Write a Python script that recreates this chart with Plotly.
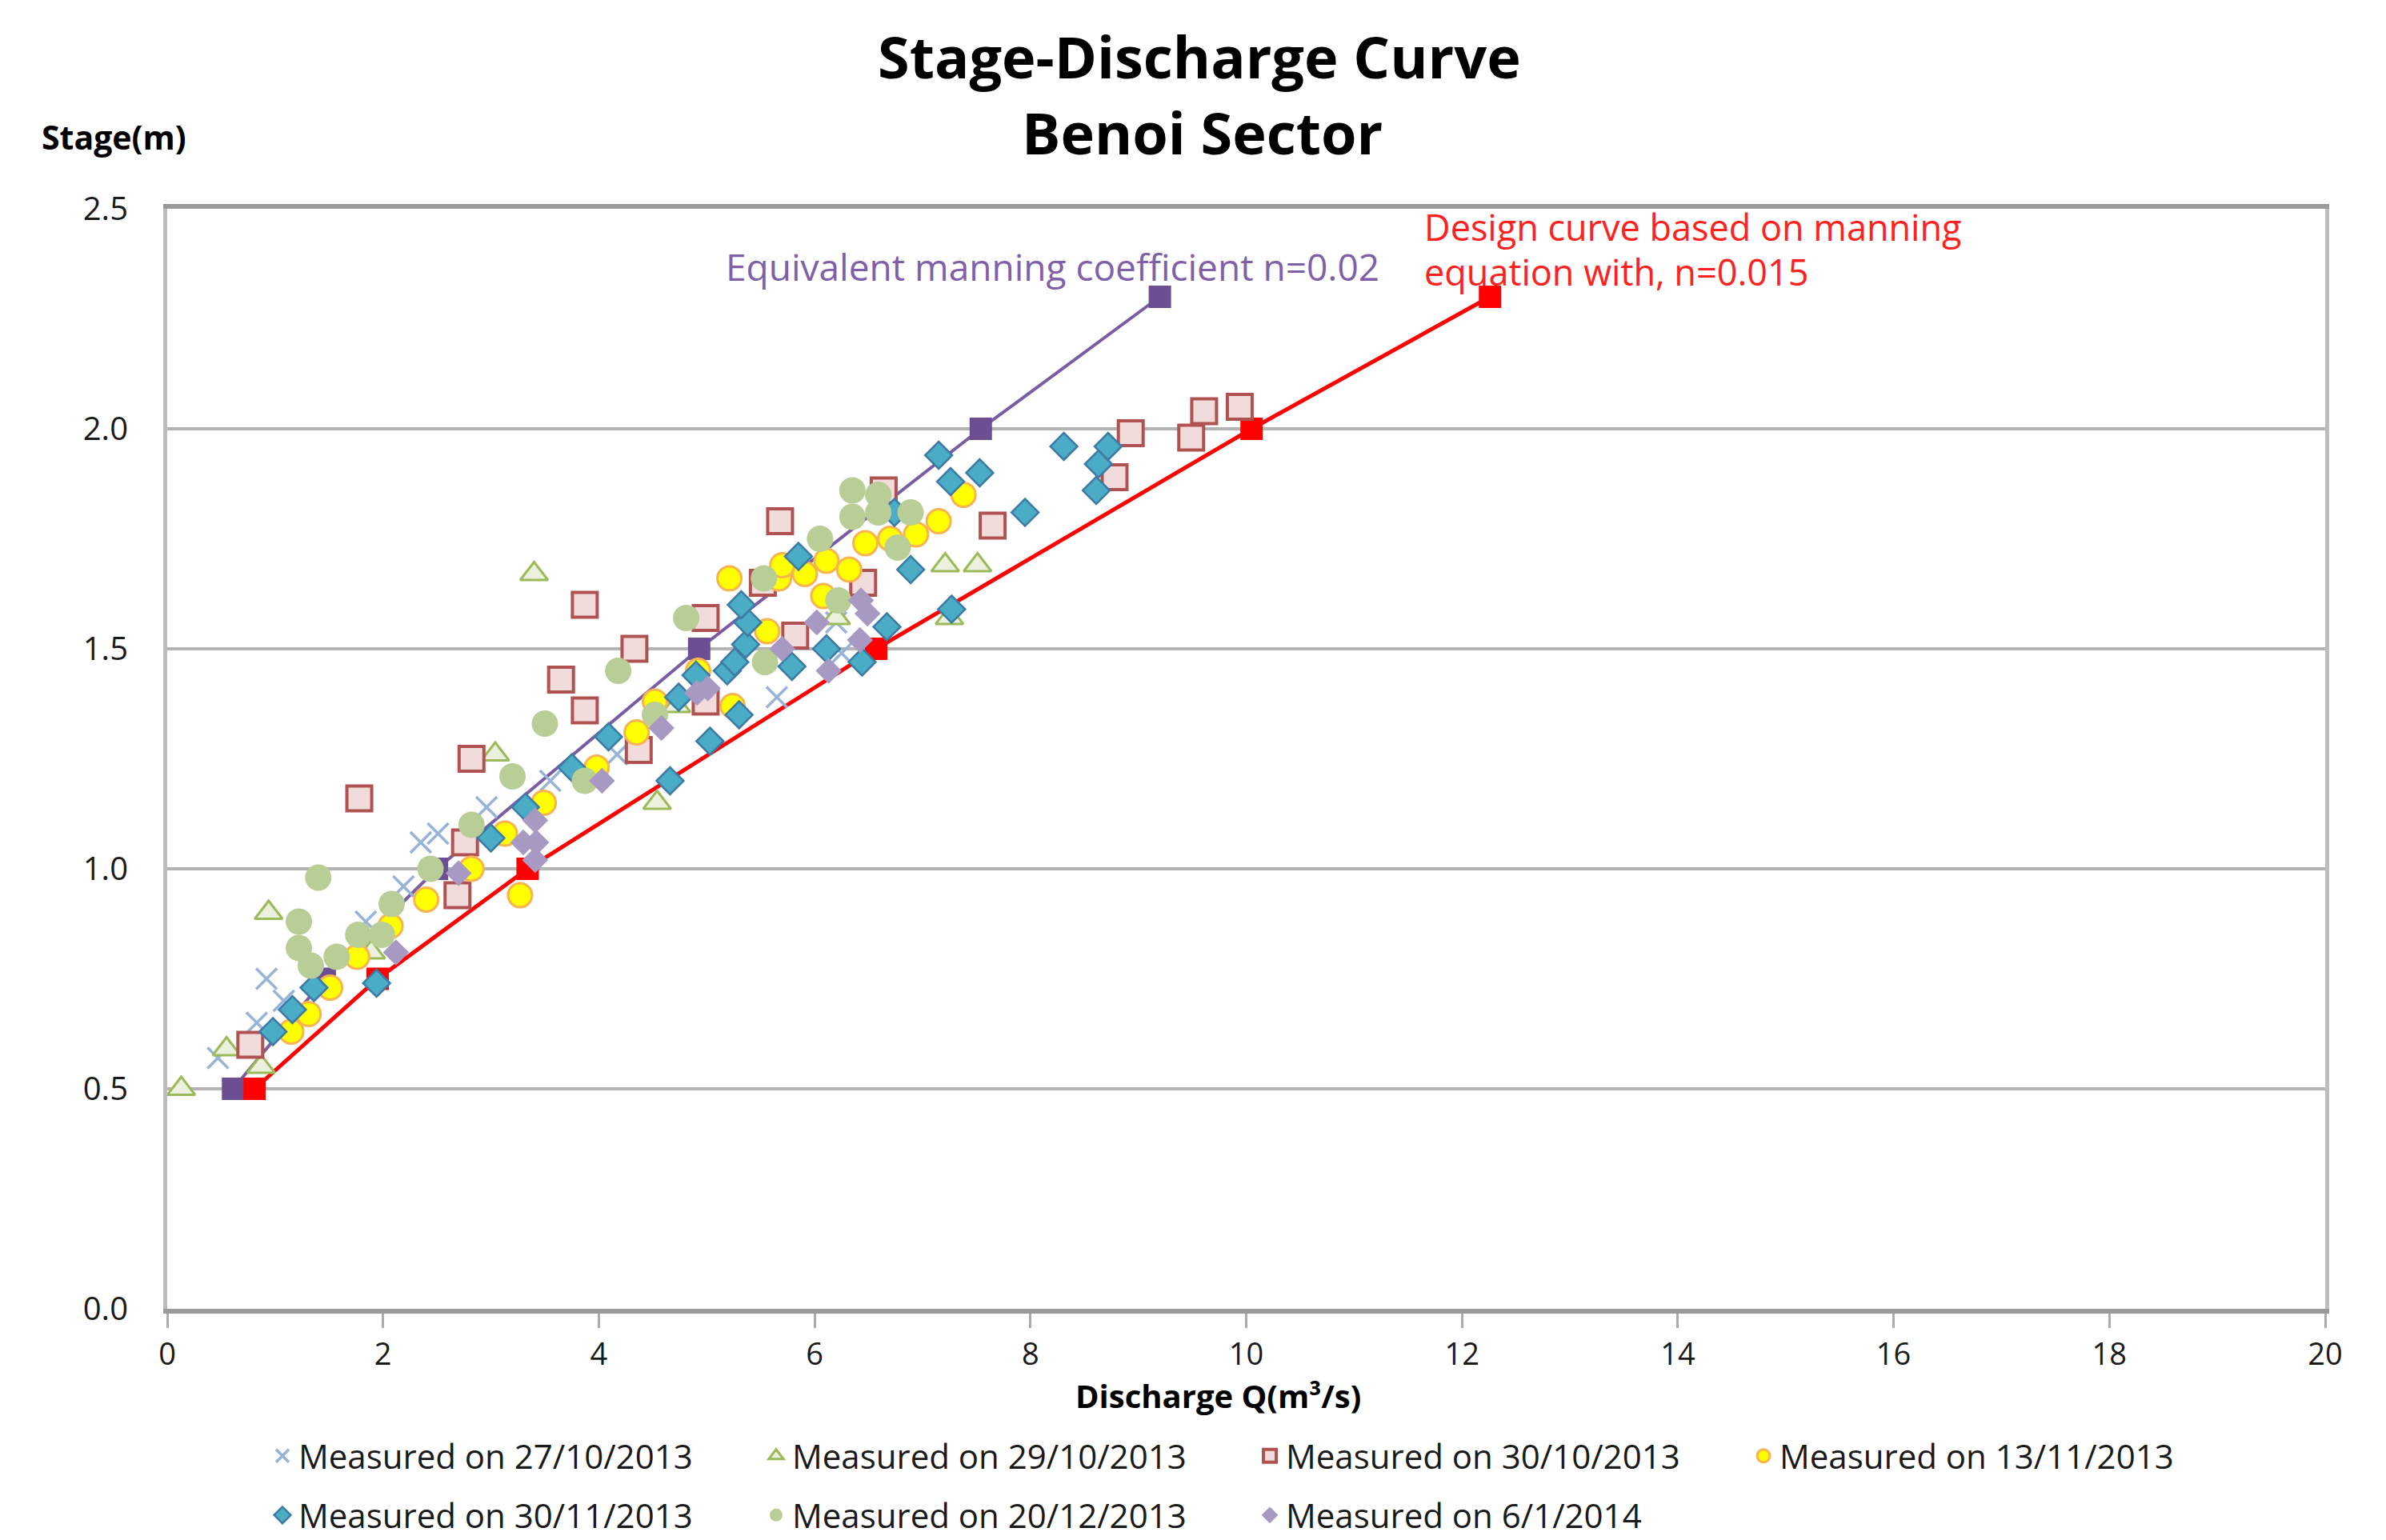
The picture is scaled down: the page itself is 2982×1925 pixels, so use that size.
import plotly.graph_objects as go

# ---------------- data ----------------
x_2710 = [0.47, 0.83, 0.92, 1.08, 1.84, 2.19, 2.35, 2.51, 2.96, 3.55, 4.17, 5.65, 6.25, 6.20]
y_2710 = [0.57, 0.65, 0.75, 0.70, 0.88, 0.96, 1.06, 1.08, 1.14, 1.20, 1.26, 1.39, 1.49, 1.56]

x_2910 = [0.13, 0.55, 0.87, 0.94, 1.89, 3.04, 3.40, 4.54, 4.72, 6.20, 7.21, 7.51, 7.25]
y_2910 = [0.50, 0.59, 0.55, 0.90, 0.81, 1.26, 1.67, 1.15, 1.37, 1.57, 1.69, 1.69, 1.57]

x_3010 = [0.77, 1.78, 2.69, 2.76, 2.82, 3.65, 3.87, 3.87, 4.33, 4.37, 4.99, 4.99, 5.52, 5.68,
          5.82, 6.45, 6.64, 7.65, 8.78, 8.93, 9.49, 9.61, 9.94]
y_3010 = [0.60, 1.16, 0.94, 1.06, 1.25, 1.43, 1.60, 1.36, 1.50, 1.27, 1.57, 1.38, 1.65, 1.79,
          1.53, 1.65, 1.86, 1.78, 1.89, 1.99, 1.98, 2.04, 2.05]

x_1311 = [1.15, 1.31, 1.51, 1.76, 2.07, 2.40, 2.82, 3.13, 3.27, 3.49, 3.98, 4.35, 4.52, 4.92,
          5.24, 5.21, 5.56, 5.67, 5.70, 5.91, 6.11, 6.08, 6.32, 6.47, 6.70, 6.94, 7.15, 7.38]
y_1311 = [0.63, 0.67, 0.73, 0.80, 0.87, 0.93, 1.00, 1.08, 0.94, 1.15, 1.23, 1.31, 1.38, 1.45,
          1.37, 1.66, 1.54, 1.66, 1.69, 1.67, 1.70, 1.62, 1.68, 1.74, 1.75, 1.76, 1.79, 1.85]

x_3011 = [0.98, 1.16, 1.36, 1.94, 3.00, 3.32, 3.75, 4.09, 4.66, 4.74, 4.90, 5.03, 5.19, 5.26,
          5.30, 5.36, 5.38, 5.32, 5.79, 5.85, 6.11, 6.44, 6.67, 6.74, 6.89, 7.15, 7.26, 7.27,
          7.53, 7.95, 8.31, 8.72, 8.63, 8.61]
y_3011 = [0.63, 0.68, 0.73, 0.74, 1.07, 1.14, 1.23, 1.30, 1.20, 1.39, 1.44, 1.29, 1.45, 1.47,
          1.35, 1.51, 1.56, 1.60, 1.46, 1.71, 1.50, 1.47, 1.55, 1.81, 1.68, 1.94, 1.88, 1.59,
          1.90, 1.81, 1.96, 1.96, 1.92, 1.86]

x_2012 = [1.22, 1.22, 1.33, 1.40, 1.57, 1.77, 1.99, 2.08, 2.44, 2.82, 3.20, 3.50, 3.87, 4.18,
          4.52, 4.81, 5.53, 5.54, 6.05, 6.22, 6.35, 6.35, 6.59, 6.59, 6.77, 6.89]
y_2012 = [0.82, 0.88, 0.78, 0.98, 0.80, 0.85, 0.85, 0.92, 1.00, 1.10, 1.21, 1.33, 1.20, 1.45,
          1.35, 1.57, 1.66, 1.47, 1.75, 1.61, 1.86, 1.80, 1.85, 1.81, 1.73, 1.81]

x_0601 = [2.12, 2.70, 3.30, 3.42, 3.41, 3.41, 4.03, 4.58, 4.91, 5.01, 5.70, 6.02, 6.13, 6.42,
          6.43, 6.49]
y_0601 = [0.81, 0.99, 1.06, 1.06, 1.02, 1.11, 1.20, 1.32, 1.40, 1.41, 1.50, 1.56, 1.45, 1.52,
          1.61, 1.58]

curve_stage = [0.5, 0.75, 1.0, 1.5, 2.0, 2.3]
design_q = [0.81, 1.95, 3.34, 6.57, 10.05, 12.26]      # n = 0.015
equiv_q = [0.61, 1.46, 2.50, 4.93, 7.54, 9.20]        # n = 0.02

x_ticks = [0, 2, 4, 6, 8, 10, 12, 14, 16, 18, 20]
y_ticks = [0.0, 0.5, 1.0, 1.5, 2.0, 2.5]

FONT = "'Open Sans', Lato, sans-serif"

fig = go.Figure()

# design curves (drawn first, underneath the measurements)
fig.add_trace(go.Scatter(x=equiv_q, y=curve_stage, mode="lines+markers", showlegend=False,
                         line=dict(color="#7A5CA3", width=4),
                         marker=dict(symbol="square", size=28, color="#6C4F92")))
fig.add_trace(go.Scatter(x=design_q, y=curve_stage, mode="lines+markers", showlegend=False,
                         line=dict(color="#FF0000", width=5),
                         marker=dict(symbol="square", size=28, color="#FF0000")))

def add_series(x, y, name, marker, legend):
    fig.add_trace(go.Scatter(x=x, y=y, mode="markers", name=name, marker=marker,
                             legend=legend))

add_series(x_2710, y_2710, "Measured on 27/10/2013",
           dict(symbol="x-thin", size=26, line=dict(width=3.5, color="#98B3D8")), "legend")
add_series(x_2910, y_2910, "Measured on 29/10/2013",
           dict(symbol="triangle-up", size=30, color="#EBF1DE",
                line=dict(width=3, color="#9BBB59")), "legend")
add_series(x_3010, y_3010, "Measured on 30/10/2013",
           dict(symbol="square", size=31, color="#F2DCDB",
                line=dict(width=4, color="#B05252")), "legend")
add_series(x_1311, y_1311, "Measured on 13/11/2013",
           dict(symbol="circle", size=30, color="#FFFF00",
                line=dict(width=3, color="#F8B450")), "legend")
add_series(x_3011, y_3011, "Measured on 30/11/2013",
           dict(symbol="diamond", size=26, color="#4BACC6",
                line=dict(width=2.5, color="#3D7BA6")), "legend2")
add_series(x_2012, y_2012, "Measured on 20/12/2013",
           dict(symbol="circle", size=33, color="#B9CD96", line=dict(width=0)), "legend2")
add_series(x_0601, y_0601, "Measured on 6/1/2014",
           dict(symbol="diamond", size=25, color="#A899C2", line=dict(width=0)), "legend2")

# paper coordinate helpers (plot area: x 209..2906, y 261..1636 px)
def px(X):
    return (X - 209) / 2697.0

def py(Y):
    return (1636 - Y) / 1375.0

def note(text, X, Y, size, color, anchor="center"):
    fig.add_annotation(text=text, x=px(X), y=py(Y), xref="paper", yref="paper",
                       showarrow=False, xanchor=anchor, yanchor="middle",
                       font=dict(family=FONT, size=size, color=color))

note("<b>Stage-Discharge Curve</b>", 1499, 70, 72, "#000000")
note("<b>Benoi Sector</b>", 1502, 165, 72, "#000000")
note("<b>Stage(m)</b>", 50, 171, 41, "#000000", "left")
note("<b>Discharge Q(m³/s)</b>", 1522, 1744, 40, "#000000")
note("Equivalent manning coefficient n=0.02", 905, 333, 46, "#7F5FAA", "left")
note("Design curve based on manning", 1778, 283, 45, "#FF2020", "left")
note("equation with, n=0.015", 1778, 340, 45, "#FF2020", "left")

fig.update_layout(
    width=2982, height=1925,
    margin=dict(l=209, r=76, t=261, b=289, autoexpand=False),
    paper_bgcolor="white", plot_bgcolor="white",
    font=dict(family=FONT, size=38, color="#1A1A1A"),
    xaxis=dict(range=[0, 20], tickvals=x_ticks, ticktext=[str(v) for v in x_ticks],
               showgrid=False, zeroline=False, showline=True, mirror=True,
               linecolor="#999999", linewidth=6, ticks="outside", ticklen=18,
               tickwidth=3, tickcolor="#ABABAB", ticklabelstandoff=0,
               automargin=False,
               tickfont=dict(family=FONT, size=38, color="#1A1A1A")),
    yaxis=dict(range=[0, 2.5], tickvals=y_ticks, ticktext=[f"{v:.1f}" for v in y_ticks],
               showgrid=True, gridcolor="#B4B4B4", gridwidth=4, zeroline=False,
               showline=True, mirror=True, linecolor="#BDBDBD", linewidth=5,
               ticks="", ticklabelstandoff=36, automargin=False,
               tickfont=dict(family=FONT, size=40, color="#1A1A1A")),
    legend=dict(orientation="h", xref="container", yref="container",
                x=333 / 2982, y=1 - 1820 / 1925, xanchor="left", yanchor="middle",
                entrywidth=572, entrywidthmode="pixels", itemwidth=30,
                font=dict(family=FONT, size=42, color="#1A1A1A"),
                bgcolor="rgba(0,0,0,0)"),
    legend2=dict(orientation="h", xref="container", yref="container",
                 x=333 / 2982, y=1 - 1894 / 1925, xanchor="left", yanchor="middle",
                 entrywidth=572, entrywidthmode="pixels", itemwidth=30,
                 font=dict(family=FONT, size=42, color="#1A1A1A"),
                 bgcolor="rgba(0,0,0,0)"),
    showlegend=True,
)

fig.write_html("out.html", config={"displayModeBar": False},
               post_script="document.body.style.margin='0';document.body.style.padding='0';")
